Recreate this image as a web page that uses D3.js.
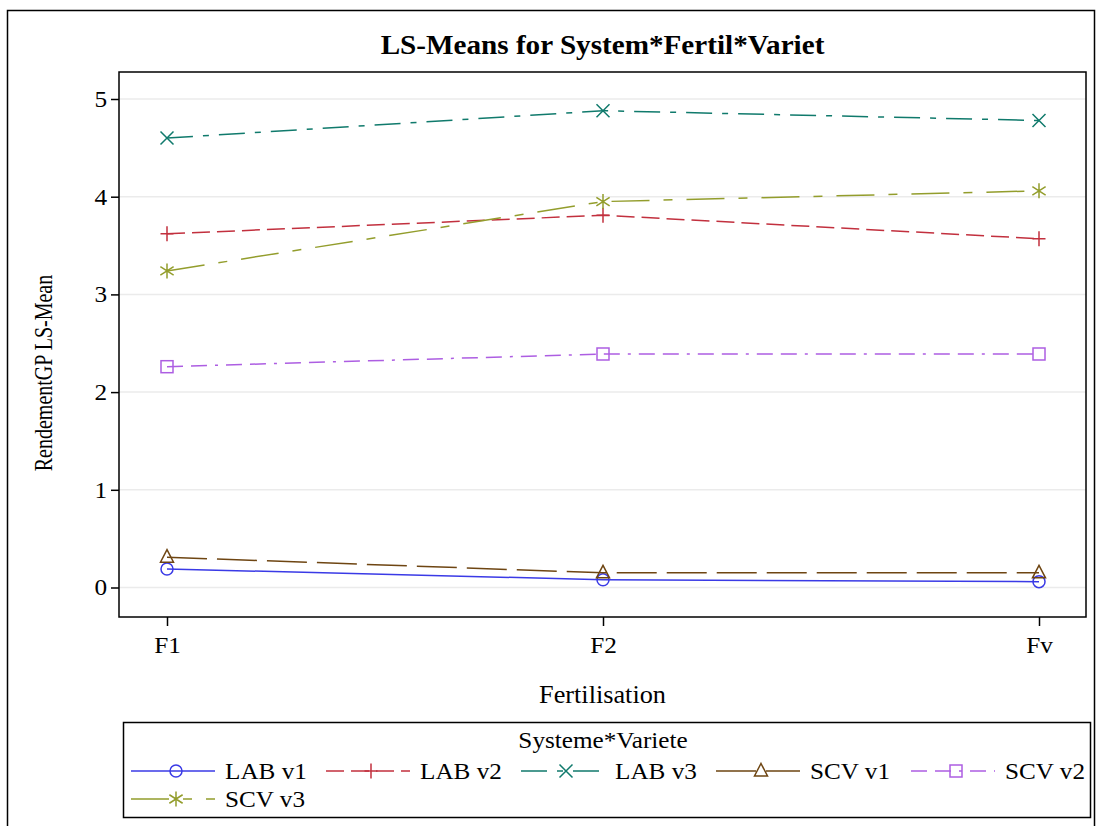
<!DOCTYPE html>
<html>
<head>
<meta charset="utf-8">
<script src="https://cdn.jsdelivr.net/npm/d3@7"></script>
<style>
  html, body { margin: 0; padding: 0; background: #fff; }
  svg { display: block; }
  svg text { font-family: "Liberation Serif", "DejaVu Serif", serif; fill: #000; }
</style>
</head>
<body>
<svg id="chart" width="1100" height="826"></svg>
<script>
// Fertilisation levels on the x axis
const fertil = ["F1", "F2", "Fv"];
// Y axis ticks
const yTicks = [0, 1, 2, 3, 4, 5];
// Systeme*Variete groups
const groups = ["LAB v1", "LAB v2", "LAB v3", "SCV v1", "SCV v2", "SCV v3"];
// LS-means per group, in the order of `fertil`
const labV1 = [0.19, 0.08, 0.06];
const labV2 = [3.62, 3.81, 3.57];
const labV3 = [4.60, 4.88, 4.78];
const scvV1 = [0.31, 0.15, 0.15];
const scvV2 = [2.26, 2.39, 2.39];
const scvV3 = [3.24, 3.95, 4.06];
const seriesValues = [labV1, labV2, labV3, scvV1, scvV2, scvV3];

// Group styling: colour, dash pattern, marker symbol
const colors = ["#3a3ae6", "#c2303e", "#107a6c", "#6e4512", "#ad5ee2", "#939d2c"];
const dashes = [null, "18,7", "26,10,6,10", "40,10", "16,8,16,8,3,8", "38,14,9,14"];
const markers = ["circle", "plus", "x", "triangle", "square", "asterisk"];

const SERIF = "Liberation Serif, DejaVu Serif, serif";
const svg = d3.select("#chart").attr("font-family", SERIF);

// Text helper: positioned group, optional rotation, horizontal glyph scaling
function addText(parent, o) {
  const g = parent.append("g")
    .attr("transform", `translate(${o.x},${o.y}) rotate(${o.rotate || 0}) scale(${o.sx || 1},1)`);
  return g.append("text")
    .attr("text-anchor", o.anchor || "start")
    .attr("font-family", SERIF)
    .attr("font-size", o.size)
    .attr("font-weight", o.weight || "normal")
    .text(o.text);
}

// Outer graph border
svg.append("rect")
  .attr("x", 7.5).attr("y", 10.5)
  .attr("width", 1087).attr("height", 830)
  .attr("fill", "none").attr("stroke", "#000").attr("stroke-width", 1.5);

const frame = { left: 119, top: 72, right: 1086, bottom: 617 };

const x = d3.scalePoint().domain(fertil).range([167, 1039]);
const y = d3.scaleLinear().domain([0, 5]).range([587.5, 99]);

// Title
addText(svg, { x: (frame.left + frame.right) / 2, y: 54, anchor: "middle", size: 27, weight: "bold", sx: 1.08,
  text: "LS-Means for System*Fertil*Variet" });

// Horizontal grid lines
svg.append("g")
  .selectAll("line").data(yTicks).join("line")
  .attr("x1", frame.left).attr("x2", frame.right)
  .attr("y1", d => y(d)).attr("y2", d => y(d))
  .attr("stroke", "#ebebeb").attr("stroke-width", 1.5);

// Axes
const TICK_SX = 1.1;
const yAxis = svg.append("g")
  .attr("transform", `translate(${frame.left},0)`)
  .call(d3.axisLeft(y).tickValues(yTicks).tickFormat(d3.format("d")).tickSize(8).tickSizeOuter(0).tickPadding(4));
const xAxis = svg.append("g")
  .attr("transform", `translate(0,${frame.bottom})`)
  .call(d3.axisBottom(x).tickSize(9).tickSizeOuter(0).tickPadding(11));
[yAxis, xAxis].forEach(g => {
  g.attr("font-family", SERIF);
  g.select(".domain").remove();
  g.selectAll(".tick line").attr("stroke", "#000").attr("stroke-width", 1.5);
  g.selectAll(".tick text").attr("font-family", SERIF).attr("font-size", 23).attr("fill", "#000")
    .attr("transform", `scale(${TICK_SX},1)`);
});
yAxis.selectAll(".tick text").attr("x", -12 / TICK_SX);

// Axis labels
addText(svg, { x: (frame.left + frame.right) / 2, y: 703, anchor: "middle", size: 25, sx: 1.05, text: "Fertilisation" });
addText(svg, { x: 52, y: 373, rotate: -90, anchor: "middle", size: 26, sx: 0.77, text: "RendementGP LS-Mean" });

// Marker drawing
function drawMarker(g, type, cx, cy, color) {
  const s = 6.5;
  const st = { stroke: color, "stroke-width": 1.5, fill: "none" };
  const apply = sel => { Object.entries(st).forEach(([k, v]) => sel.attr(k, v)); return sel; };
  if (type === "circle") {
    apply(g.append("circle").attr("cx", cx).attr("cy", cy).attr("r", 6));
  } else if (type === "square") {
    apply(g.append("rect").attr("x", cx - 6).attr("y", cy - 6).attr("width", 12).attr("height", 12));
  } else if (type === "triangle") {
    apply(g.append("path").attr("d", `M${cx},${cy - 7.5}L${cx + 6.5},${cy + 5}L${cx - 6.5},${cy + 5}Z`));
  } else if (type === "plus") {
    apply(g.append("path").attr("d", `M${cx - s},${cy}H${cx + s}M${cx},${cy - s - 1}V${cy + s + 1}`));
  } else if (type === "x") {
    apply(g.append("path").attr("d", `M${cx - s},${cy - s}L${cx + s},${cy + s}M${cx - s},${cy + s}L${cx + s},${cy - s}`));
  } else if (type === "asterisk") {
    const dx = s * Math.cos(Math.PI / 6), dy = s * Math.sin(Math.PI / 6);
    apply(g.append("path").attr("d",
      `M${cx},${cy - s - 1}V${cy + s + 1}M${cx - dx - 1},${cy - dy - 1}L${cx + dx + 1},${cy + dy + 1}M${cx - dx - 1},${cy + dy + 1}L${cx + dx + 1},${cy - dy - 1}`));
  }
}

// Series lines and markers
const line = d3.line().x(d => x(d.f)).y(d => y(d.v));
const plot = svg.append("g");
groups.forEach((name, i) => {
  const pts = fertil.map((f, j) => ({ f, v: seriesValues[i][j] }));
  plot.append("path")
    .attr("d", line(pts))
    .attr("fill", "none")
    .attr("stroke", colors[i]).attr("stroke-width", 1.5)
    .attr("stroke-dasharray", dashes[i]);
  pts.forEach(p => drawMarker(plot, markers[i], x(p.f), y(p.v), colors[i]));
});

// Plot frame
svg.append("rect")
  .attr("x", frame.left).attr("y", frame.top)
  .attr("width", frame.right - frame.left).attr("height", frame.bottom - frame.top)
  .attr("fill", "none").attr("stroke", "#000").attr("stroke-width", 1.5);

// Legend
const legend = svg.append("g");
legend.append("rect")
  .attr("x", 123.5).attr("y", 722.5).attr("width", 967).attr("height", 95)
  .attr("fill", "none").attr("stroke", "#000").attr("stroke-width", 1.5);
addText(legend, { x: 603, y: 748, anchor: "middle", size: 24, sx: 1.05, text: "Systeme*Variete" });
groups.forEach((name, i) => {
  const col = i % 5, row = Math.floor(i / 5);
  const lx = 131 + col * 195, ly = 771 + row * 28;
  const g = legend.append("g");
  g.append("line")
    .attr("x1", lx).attr("x2", lx + 84).attr("y1", ly).attr("y2", ly)
    .attr("stroke", colors[i]).attr("stroke-width", 1.5)
    .attr("stroke-dasharray", dashes[i]);
  drawMarker(g, markers[i], lx + 45, ly, colors[i]);
  addText(g, { x: lx + 94, y: ly + 8, size: 24, sx: 1.05, text: name });
});
</script>
</body>
</html>
